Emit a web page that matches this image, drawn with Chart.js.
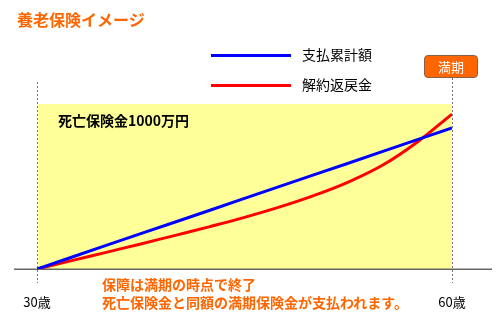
<!DOCTYPE html>
<html>
<head>
<meta charset="utf-8">
<script src="https://cdn.jsdelivr.net/npm/chart.js@4"></script>
<style>
  html, body { margin:0; padding:0; background:#fff; }
  #wrap { position:relative; width:500px; height:324px; overflow:hidden; font-family:"Noto Sans CJK JP","Noto Sans",sans-serif; }
  canvas { position:absolute; left:0; top:0; }
  .t { position:absolute; white-space:nowrap; line-height:1; }
  #title { left:17px; top:11px; font-size:16px; font-weight:bold; color:#FF6600; }
  .lg { position:absolute; left:211px; width:80px; height:3px; }
  .lgt { left:302px; font-size:14px; color:#000; }
  #mk { position:absolute; left:424px; top:55px; width:52px; height:21px; background:#FF6600; border:1px solid #8a6048; border-radius:4px; color:#fff; font-size:13px; text-align:center; line-height:21px; }
  #death { left:58px; top:113px; font-size:14px; font-weight:bold; color:#000; }
  .note { left:102px; font-size:14px; font-weight:bold; color:#FF6600; }
</style>
</head>
<body>
<div id="wrap">
  <canvas id="c" width="500" height="324"></canvas>
  <div class="t" id="title">養老保険イメージ</div>
  <div class="lg" style="top:54px;background:#0000FF"></div>
  <div class="t lgt" style="top:47px">支払累計額</div>
  <div class="lg" style="top:84px;background:#FF0000"></div>
  <div class="t lgt" style="top:77px">解約返戻金</div>
  <div id="mk">満期</div>
  <div class="t" id="death">死亡保険金1000万円</div>
  <div class="t note" style="top:277px">保障は満期の時点で終了</div>
  <div class="t note" style="top:295px">死亡保険金と同額の満期保険金が支払われます。</div>
</div>
<script>
// ---- data ----
const ages = [30, 32.5, 35, 37.5, 40, 42.5, 45, 47.5, 50, 52.5, 55, 57.5, 60];
const paidTotal = [0, 71, 143, 214, 285, 356, 428, 499, 570, 641, 713, 784, 855];
const surrenderValue = [0, 51, 101, 152, 204, 257, 313, 375, 445, 527, 630, 770, 939];
const tickAges = [30, 60];
const tickLabels = ["30歳", "60歳"];
const deathBenefit = 1000;

const bgPlugin = {
  id: 'bg',
  beforeDatasetsDraw(chart) {
    const {ctx, scales:{x, y}} = chart;
    const x0 = x.getPixelForValue(30), x1 = x.getPixelForValue(60);
    const y0 = y.getPixelForValue(0), y1 = y.getPixelForValue(deathBenefit);
    ctx.save();
    ctx.fillStyle = '#FFFF99';
    ctx.fillRect(x0 + 1, y1, x1 - x0 - 1, y0 - y1);
    // baseline
    ctx.strokeStyle = '#666666';
    ctx.lineWidth = 1.5;
    ctx.beginPath();
    ctx.moveTo(x0 - 23, Math.round(y0) + 0.25);
    ctx.lineTo(x1 + 40, Math.round(y0) + 0.25);
    ctx.stroke();
    // dashed verticals
    ctx.strokeStyle = '#777777';
    ctx.lineWidth = 1;
    ctx.setLineDash([2, 2]);
    ctx.beginPath();
    ctx.moveTo(Math.round(x0) + 0.5, 82);
    ctx.lineTo(Math.round(x0) + 0.5, y0 + 14);
    ctx.moveTo(Math.round(x1) + 0.5, 78);
    ctx.lineTo(Math.round(x1) + 0.5, y0 + 14);
    ctx.stroke();
    ctx.restore();
  }
};

new Chart(document.getElementById('c'), {
  type: 'line',
  data: {
    datasets: [
      { label: '支払累計額', data: ages.map((a, i) => ({x: a, y: paidTotal[i]})), borderColor: '#0000FF', borderWidth: 3, pointRadius: 0, tension: 0 },
      { label: '解約返戻金', data: ages.map((a, i) => ({x: a, y: surrenderValue[i]})), borderColor: '#FF0000', borderWidth: 3, pointRadius: 0, tension: 0.4 }
    ]
  },
  options: {
    responsive: false,
    animation: false,
    layout: { padding: { left: 37, right: 48, top: 104, bottom: 13 } },
    plugins: { legend: { display: false }, tooltip: { enabled: false } },
    scales: {
      x: {
        type: 'linear', min: 30, max: 60,
        grid: { display: false }, border: { display: false },
        afterBuildTicks(scale) { scale.ticks = tickAges.map(v => ({value: v})); },
        afterFit(scale) { scale.height = 42; },
        ticks: {
          padding: 17, maxRotation: 0, autoSkip: false,
          color: '#000', font: { size: 13, family: '"Noto Sans CJK JP", sans-serif' },
          callback(v) { const i = tickAges.indexOf(v); return i >= 0 ? tickLabels[i] : ''; }
        }
      },
      y: { display: false, min: 0, max: deathBenefit }
    }
  },
  plugins: [bgPlugin]
});
</script>
</body>
</html>
